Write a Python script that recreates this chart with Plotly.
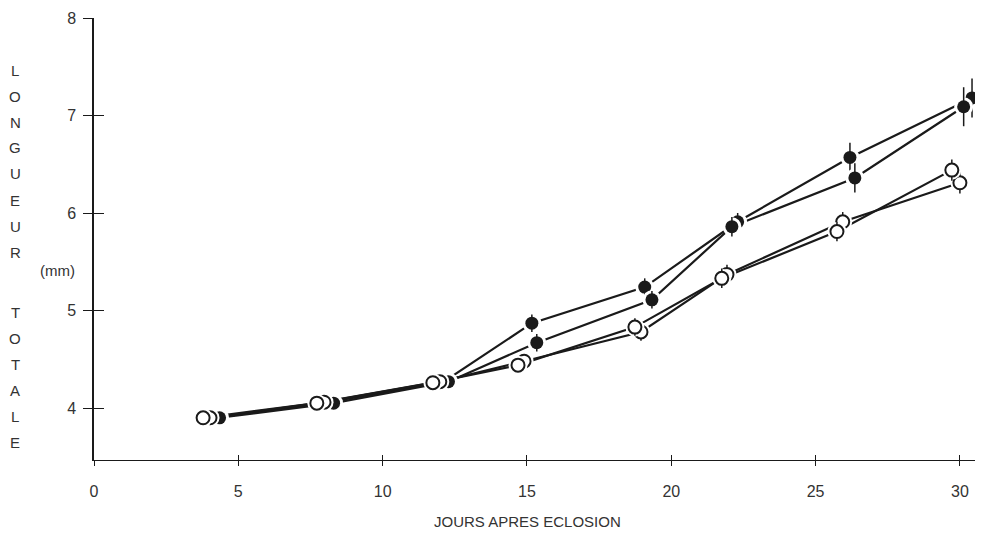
import plotly.graph_objects as go

# ---- data ----
days_A = [4.20, 8.12, 12.12, 15.17, 19.08, 22.30, 26.19, 30.42]
len_A  = [3.90, 4.06, 4.27, 4.87, 5.24, 5.91, 6.57, 7.18]
err_A  = [0.03, 0.03, 0.04, 0.09, 0.09, 0.09, 0.15, 0.20]

days_B = [4.35, 8.30, 12.28, 15.34, 19.33, 22.10, 26.36, 30.13]
len_B  = [3.90, 4.05, 4.27, 4.67, 5.11, 5.86, 6.36, 7.09]
err_B  = [0.03, 0.03, 0.04, 0.09, 0.09, 0.10, 0.15, 0.20]

days_C = [3.78, 7.72, 11.74, 14.69, 18.74, 21.75, 25.74, 29.72]
len_C  = [3.90, 4.05, 4.26, 4.44, 4.83, 5.33, 5.81, 6.44]
err_C  = [0.03, 0.03, 0.04, 0.06, 0.09, 0.10, 0.10, 0.11]

days_D = [4.02, 7.97, 11.98, 14.90, 18.95, 21.93, 25.94, 30.00]
len_D  = [3.90, 4.06, 4.27, 4.48, 4.78, 5.37, 5.91, 6.31]
err_D  = [0.03, 0.03, 0.04, 0.06, 0.09, 0.10, 0.10, 0.11]

x_ticks = [0, 5, 10, 15, 20, 25, 30]
y_ticks = [4, 5, 6, 7, 8]
x_range = [0, 30.8]
y_range = [3.467, 8]

ylab_top = list("LONGUEUR")
ylab_bot = list("TOTALE")
x_title = "JOURS APRES ECLOSION"
unit = "(mm)"

FONT = "Liberation Sans Narrow, Arial Narrow, Liberation Sans, Arial, sans-serif"
INK = "#1a1a1a"

series = {
    "A": (days_A, len_A, err_A, True),
    "B": (days_B, len_B, err_B, True),
    "C": (days_C, len_C, err_C, False),
    "D": (days_D, len_D, err_D, False),
}

fig = go.Figure()

# lines first
for key in ["A", "B", "D", "C"]:
    xs, ys, es, filled = series[key]
    fig.add_trace(go.Scatter(x=xs, y=ys, mode="lines",
                             line=dict(color=INK, width=2.2),
                             cliponaxis=False,
                             hoverinfo="skip", showlegend=False))

# halos + markers, back to front
for key in ["A", "B", "D", "C"]:
    xs, ys, es, filled = series[key]
    fig.add_trace(go.Scatter(x=xs, y=ys, mode="markers",
                             marker=dict(size=19, color="white", line=dict(width=0)),
                             cliponaxis=False,
                             hoverinfo="skip", showlegend=False))
    fig.add_trace(go.Scatter(
        x=xs, y=ys, mode="markers",
        error_y=dict(type="data", array=es, visible=True, color=INK,
                     thickness=1.5, width=0),
        marker=dict(size=13, color=INK if filled else "white",
                    line=dict(color=INK, width=2 if not filled else 0)),
        cliponaxis=False,
        showlegend=False))

# invisible trace to activate the overlay axes (for crossing ticks)
fig.add_trace(go.Scatter(x=days_C, y=len_C, xaxis="x2", yaxis="y2",
                         mode="markers", marker=dict(opacity=0),
                         hoverinfo="skip", showlegend=False))

axis_font = dict(family=FONT, size=16, color="#333")

# page body adds an 8px offset; figure is sized to fit the window
W, H = 975, 528
OFF = 8
plot_left, plot_right = 94 - OFF, 983 - OFF
plot_top, plot_bottom = 18 - OFF, 460 - OFF

fig.update_layout(
    width=W, height=H,
    margin=dict(l=plot_left, r=W - plot_right, t=plot_top, b=H - plot_bottom,
                autoexpand=False),
    paper_bgcolor="white", plot_bgcolor="white",
    xaxis=dict(range=x_range, tickvals=x_ticks, ticks="outside", ticklen=5,
               tickcolor=INK, tickwidth=1.3, showline=True, linecolor=INK,
               linewidth=1.3, showgrid=False, zeroline=False,
               tickfont=axis_font, ticklabelstandoff=12),
    yaxis=dict(range=y_range, tickvals=y_ticks, ticks="outside", ticklen=9,
               tickcolor=INK, tickwidth=1.3, showline=True, linecolor=INK,
               linewidth=1.5, showgrid=False, zeroline=False,
               tickfont=axis_font, ticklabelstandoff=4),
    xaxis2=dict(range=x_range, tickvals=x_ticks, ticks="inside", ticklen=5,
                tickcolor=INK, tickwidth=1.3, overlaying="x", anchor="y",
                side="bottom", showticklabels=False, showline=False,
                showgrid=False, zeroline=False),
    yaxis2=dict(range=y_range, tickvals=y_ticks, ticks="inside", ticklen=10,
                tickcolor=INK, tickwidth=1.3, overlaying="y", anchor="x",
                side="left", showticklabels=False, showline=False,
                showgrid=False, zeroline=False),
)

plot_w = plot_right - plot_left
plot_h = plot_bottom - plot_top

def px2paper(px, py):
    # px, py are page-pixel positions measured on the reference
    return (px - OFF - plot_left) / plot_w, (plot_bottom - (py - OFF)) / plot_h

letter_font = dict(family=FONT, size=15, color="#333")
for i, ch in enumerate(ylab_top):
    xp, yp = px2paper(15, 70 + 26 * i)
    fig.add_annotation(x=xp, y=yp, xref="paper", yref="paper", text=ch,
                       showarrow=False, font=letter_font,
                       xanchor="center", yanchor="middle")
for i, ch in enumerate(ylab_bot):
    xp, yp = px2paper(15, 312 + 26 * i)
    fig.add_annotation(x=xp, y=yp, xref="paper", yref="paper", text=ch,
                       showarrow=False, font=letter_font,
                       xanchor="center", yanchor="middle")
xp, yp = px2paper(57, 270)
fig.add_annotation(x=xp, y=yp, xref="paper", yref="paper", text=unit,
                   showarrow=False, font=letter_font,
                   xanchor="center", yanchor="middle")
xp, yp = px2paper(527, 521)
fig.add_annotation(x=xp, y=yp, xref="paper", yref="paper", text=x_title,
                   showarrow=False, font=dict(family=FONT, size=15, color="#333"),
                   xanchor="center", yanchor="middle")

fig.write_html("out.html")
